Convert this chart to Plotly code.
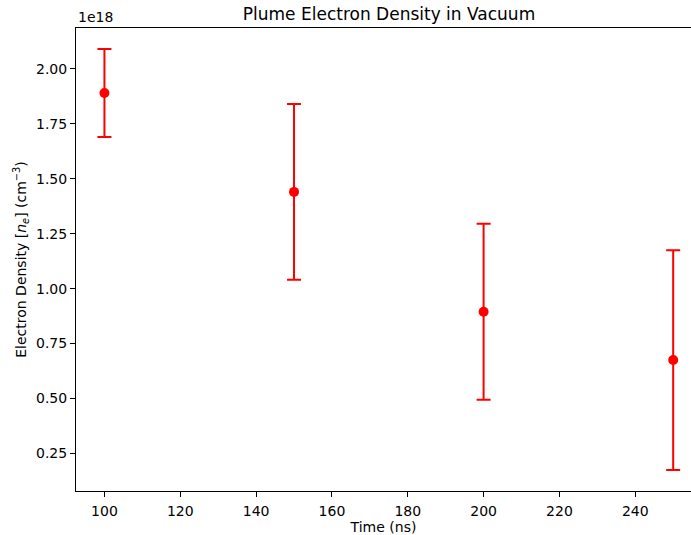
import plotly.graph_objects as go

time_ns = [100, 150, 200, 250]
density = [1.89e18, 1.44e18, 0.895e18, 0.675e18]
density_err = [0.20e18, 0.40e18, 0.40e18, 0.50e18]

x_ticks = [100, 120, 140, 160, 180, 200, 220, 240]
y_tick_mantissa = [0.25, 0.50, 0.75, 1.00, 1.25, 1.50, 1.75, 2.00]
y_scale = 1e18

fig = go.Figure()
fig.add_trace(go.Scatter(
    x=time_ns, y=density, mode="markers",
    marker=dict(color="#ff0000", size=10),
    error_y=dict(type="data", array=density_err, visible=True,
                 color="#ff0000", thickness=2, width=7),
    showlegend=False,
))

font = dict(family="DejaVu Sans", size=14, color="black")
fig.update_layout(
    width=691, height=535, autosize=False,
    margin=dict(l=76, r=0, t=28, b=44),
    paper_bgcolor="white", plot_bgcolor="white",
    font=font,
    title=dict(text="Plume Electron Density in Vacuum", x=(389/691), xanchor="center",
               y=1 - 14/535, yanchor="middle", font=dict(family="DejaVu Sans", size=17, color="black")),
    xaxis=dict(range=[92.5, 254.7], tickvals=x_ticks, ticks="outside", ticklen=5, tickwidth=1,
               tickcolor="black", showline=True, linecolor="black", linewidth=1, mirror=True,
               showgrid=False, zeroline=False, ticklabelstandoff=2,
               title=dict(text="Time (ns)", standoff=3, font=font)),
    yaxis=dict(range=[0.0795e18, 2.1855e18],
               tickvals=[v * y_scale for v in y_tick_mantissa],
               ticktext=[f"{v:.2f}" for v in y_tick_mantissa],
               ticks="outside", ticklen=5, tickwidth=1, tickcolor="black",
               showline=True, linecolor="black", linewidth=1, mirror=False,
               showgrid=False, zeroline=False,
               title=dict(text="Electron Density [<i>n<sub>e</sub></i>] (cm<sup>\u22123</sup>)",
                          standoff=6, font=font)),
    annotations=[dict(text="1e18", xref="paper", yref="paper", x=0, y=1,
                      xanchor="left", yanchor="bottom", showarrow=False, yshift=1,
                      font=font)],
)

fig.write_html("out.html")
